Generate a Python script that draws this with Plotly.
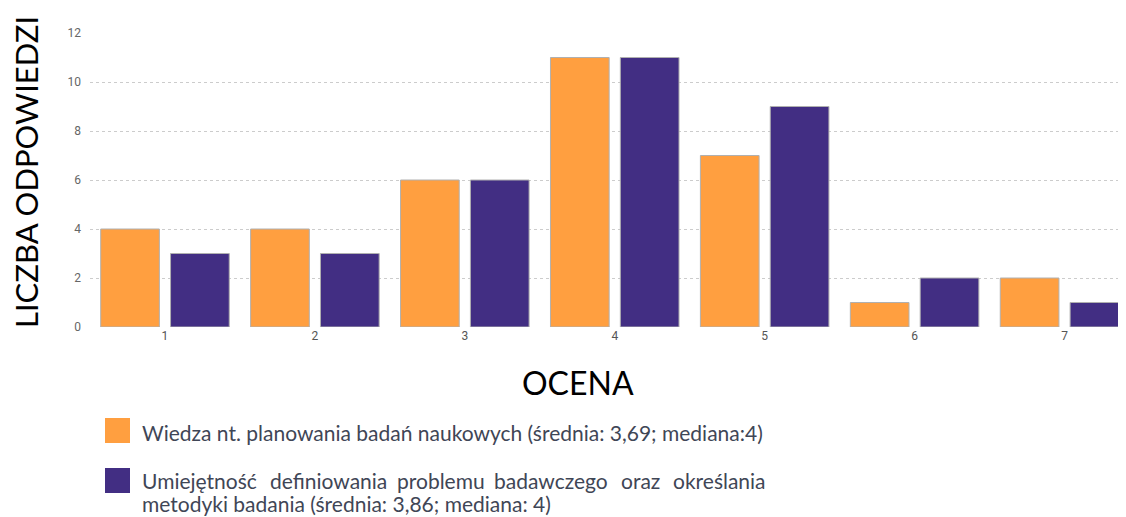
import plotly.graph_objects as go

oceny = ["1", "2", "3", "4", "5", "6", "7"]
wiedza = [4, 4, 6, 11, 7, 1, 2]
umiejetnosc = [3, 3, 6, 11, 9, 2, 1]
y_ticks = [0, 2, 4, 6, 8, 10, 12]

legend_1 = "Wiedza nt. planowania badań naukowych (średnia: 3,69; mediana:4)"
legend_2a = "Umiejętność definiowania problemu badawczego oraz określania"
legend_2b = "metodyki badania (średnia: 3,86; mediana: 4)"

ORANGE = "#FF9F40"
PURPLE = "#422E83"
TXT = "#3f4656"

x_num = list(range(1, len(oceny) + 1))


# piksele ekranu -> współrzędne paper (strona ma 8px marginesu body)
def px(sx):
    return (sx - 90) / 1036


def py(sy):
    return (327 - sy) / 294


fig = go.Figure()
fig.add_trace(go.Bar(x=x_num, y=wiedza, name=legend_1,
                     marker=dict(color=ORANGE, line=dict(color="#b0b0b0", width=1))))
fig.add_trace(go.Bar(x=x_num, y=umiejetnosc, name=legend_2a,
                     marker=dict(color=PURPLE, line=dict(color="#b0b0b0", width=1))))

fig.update_layout(
    width=1118, height=509,
    margin=dict(l=82, r=0, t=25, b=190),
    plot_bgcolor="white", paper_bgcolor="white",
    barmode="group", bargap=0.068, bargroupgap=0.16,
    showlegend=False,
    font=dict(family="Lato", color=TXT),
)
fig.update_xaxes(range=[0.5, 7.41], tickvals=x_num, ticktext=oceny,
                 showgrid=False, zeroline=False, showline=False,
                 ticks="", tickfont=dict(size=12, color="#555", family="Roboto"))
fig.update_yaxes(range=[0, 12], tickvals=y_ticks, showgrid=True,
                 gridcolor="#cccccc", griddash="dot", gridwidth=1,
                 zeroline=False, ticks="", ticklabelstandoff=8,
                 tickfont=dict(size=12, color="#666", family="Roboto"))

# tytuły osi
fig.add_annotation(text="LICZBA ODPOWIEDZI", textangle=-90, xref="paper", yref="paper",
                   x=px(26), y=py(172), xanchor="center", yanchor="middle", showarrow=False,
                   font=dict(size=31, color="black", family="Lato"))
fig.add_annotation(text="OCENA", xref="paper", yref="paper", x=px(578), y=py(382),
                   xanchor="center", yanchor="middle", showarrow=False,
                   font=dict(size=32, color="black", family="Lato"))

# legenda
for y0, col in [(418, ORANGE), (468, PURPLE)]:
    fig.add_shape(type="rect", xref="paper", yref="paper",
                  x0=px(105), x1=px(130), y0=py(y0), y1=py(y0 + 25),
                  fillcolor=col, line=dict(width=0))

legend_font = dict(size=21, color=TXT, family="Lato")
for txt, yc in [(legend_1, 432), (legend_2b, 504)]:
    fig.add_annotation(text=txt, xref="paper", yref="paper", x=px(140), y=py(yc),
                       xanchor="left", yanchor="middle", showarrow=False, font=legend_font)

# wyjustowana pierwsza linia drugiej pozycji legendy (ostatnie słowo do prawej)
words = legend_2a.split(" ")
word_x = [140, 268, 395, 492, 619]
for word, sx in zip(words[:-1], word_x):
    fig.add_annotation(text=word, xref="paper", yref="paper", x=px(sx), y=py(480),
                       xanchor="left", yanchor="middle", showarrow=False, font=legend_font)
fig.add_annotation(text=words[-1], xref="paper", yref="paper", x=px(768), y=py(480),
                   xanchor="right", yanchor="middle", showarrow=False, font=legend_font)

fig.write_html("out.html")
